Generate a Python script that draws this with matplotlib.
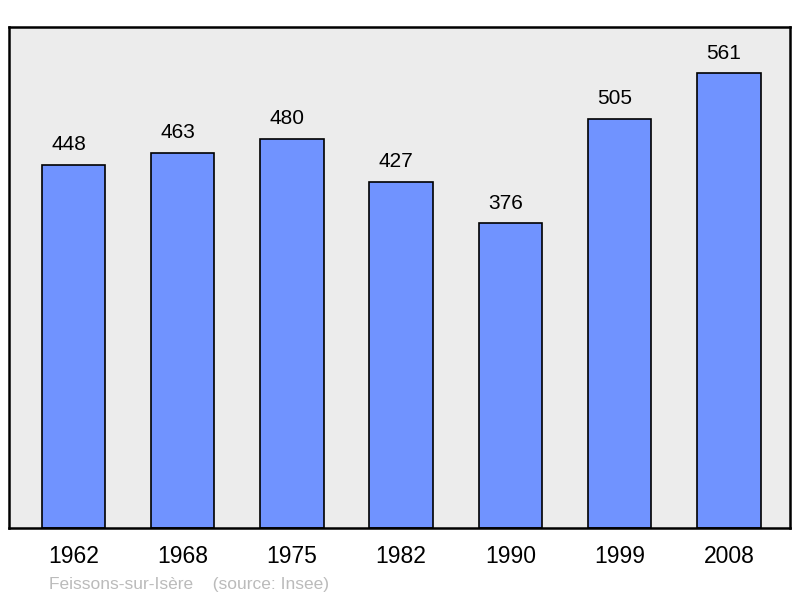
import matplotlib.pyplot as plt

plt.rcParams['font.family'] = ['Liberation Sans', 'DejaVu Sans']

years = ['1962', '1968', '1975', '1982', '1990', '1999', '2008']
population = [448, 463, 480, 427, 376, 505, 561]
town = 'Feissons-sur-Isère'
source = '(source: Insee)'


def plot_population():
    fig = plt.figure(figsize=(8, 5.98), dpi=100)
    ax = fig.add_axes([9 / 800, 70 / 598, 781 / 800, 501 / 598])
    ax.set_facecolor('#ececec')

    pos = list(range(len(years)))
    ax.bar(pos, population, width=0.58, color='#7093ff', edgecolor='black', linewidth=1.2, zorder=2)

    # value labels sit a little left of the bar centre in the original
    for x, v in zip(pos, population):
        ax.text(x - 0.045, v + 13, str(v), ha='center', va='bottom', fontsize=15, color='black')

    ax.set_xlim(-0.59, 6.56)
    ax.set_ylim(0, 618)
    ax.set_yticks([])
    ax.set_xticks(pos)
    ax.set_xticklabels(years, fontsize=16.5)
    ax.tick_params(axis='x', length=0, pad=12)

    for s in ax.spines.values():
        s.set_linewidth(1.8)
        s.set_color('black')

    fig.text(49 / 800, 1 - 584 / 598, town + '    ' + source, fontsize=12.5,
             color='#bbbbbb', ha='left', va='center')

    plt.savefig('out.png', dpi=100)


if __name__ == "__main__":
    plot_population()
